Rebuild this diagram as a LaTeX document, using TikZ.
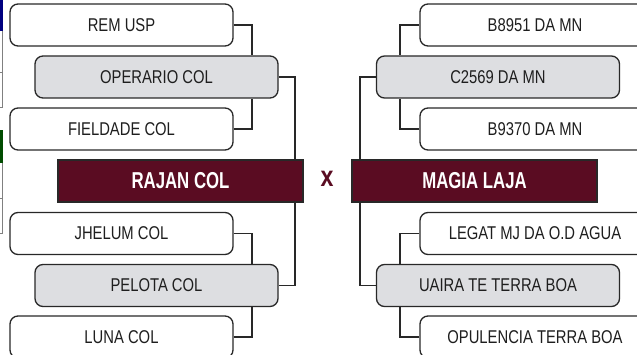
\documentclass[tikz,border=0pt]{standalone}
\usepackage{fontspec}
\setmainfont{Liberation Sans}[FakeStretch=0.80]
\newfontfamily\headfont{Liberation Sans}[FakeStretch=0.73]
\definecolor{maroon}{RGB}{90,12,34}
\definecolor{boxgray}{RGB}{221,222,225}
\definecolor{edge}{RGB}{40,40,40}
\definecolor{ink}{RGB}{30,30,30}
\begin{document}
\begin{tikzpicture}[x=1pt,y=-1pt,
  horse/.style={draw=edge,line width=1.3pt,rounded corners=8pt,fill=white,
    minimum width=223pt,minimum height=42pt,inner sep=0pt,text=ink,
    font=\fontsize{18.5}{20}\selectfont},
  sire/.style={horse,fill=boxgray,minimum width=243pt},
  champ/.style={draw=edge,line width=1.3pt,fill=maroon,minimum width=245pt,
    minimum height=42pt,inner sep=0pt,text=white,
    font=\headfont\bfseries\fontsize{23}{25}\selectfont},
  link/.style={draw=edge,line width=1.3pt}]
\useasboundingbox (0,0) rectangle (637,355);

% left edge
\fill[blue!50!black] (0,0) rectangle (2.5,31);
\fill[green!30!black] (0,130) rectangle (2.5,163);
\draw[gray,line width=0.6pt] (2,31) -- (2,107) (0,72) -- (2.5,72) (0,107) -- (2.5,107);
\draw[gray,line width=0.6pt] (2,163) -- (2,233) (0,198) -- (2.5,198) (0,233) -- (2.5,233);

% left side
\node[horse] (rem) at (121.5,25) {REM USP};
\node[sire] (operario) at (156.5,77) {OPERARIO COL};
\node[horse] (fieldade) at (121.5,129) {FIELDADE COL};
\node[champ] (rajan) at (180.5,181) {RAJAN COL};
\node[horse] (jhelum) at (121.5,233.5) {JHELUM COL};
\node[sire] (pelota) at (156.5,285.5) {PELOTA COL};
\node[horse] (luna) at (121.5,337) {LUNA COL};

% right side
\node[horse,minimum width=230pt] (bA) at (535,25) {B8951 DA MN};
\node[sire] (cA) at (498,77) {C2569 DA MN};
\node[horse,minimum width=230pt] (bB) at (535,129) {B9370 DA MN};
\node[champ] (magia) at (474.5,181) {MAGIA LAJA};
\node[horse,minimum width=230pt] (legat) at (535,233.5) {LEGAT MJ DA O.D AGUA};
\node[sire] (uaira) at (498,285.5) {UAIRA TE TERRA BOA};
\node[horse,minimum width=230pt] (opulencia) at (535,337) {OPULENCIA TERRA BOA};

\node[text=maroon,font=\bfseries\fontsize{29}{30}\selectfont] (vs) at (327,179) {x};

\coordinate (ljoin) at (252,0);
\coordinate (lfinal) at (295,0);
\coordinate (rjoin) at (400,0);
\coordinate (rfinal) at (360,0);

\draw[link] (rem.east) -| (ljoin |- operario.north);
\draw[link] (fieldade.east) -| (ljoin |- operario.south);
\draw[link] (operario.east) -| (lfinal |- rajan.north);
\draw[link] (jhelum.east) -| (ljoin |- pelota.north);
\draw[link] (luna.east) -| (ljoin |- pelota.south);
\draw[link] (pelota.east) -| (lfinal |- rajan.south);

\draw[link] (bA.west) -| (rjoin |- cA.north);
\draw[link] (bB.west) -| (rjoin |- cA.south);
\draw[link] (cA.west) -| (rfinal |- magia.north);
\draw[link] (legat.west) -| (rjoin |- uaira.north);
\draw[link] (opulencia.west) -| (rjoin |- uaira.south);
\draw[link] (uaira.west) -| (rfinal |- magia.south);
\end{tikzpicture}
\end{document}
